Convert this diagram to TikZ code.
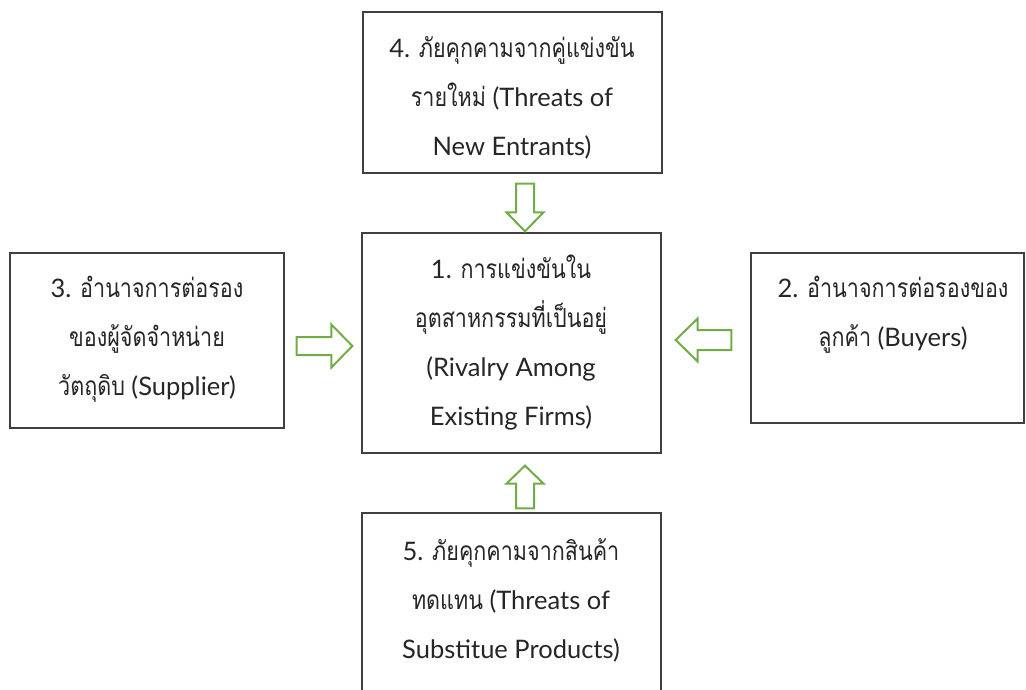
\documentclass[tikz,border=0pt]{standalone}
\usepackage{fontspec}
\setmainfont{Lato}
\newfontfamily\thaifont[Script=Thai,Scale=1.03,FakeStretch=0.82]{Loma}
\newcommand\tht[1]{{\thaifont #1}}
\usetikzlibrary{calc}
\definecolor{boxgray}{HTML}{404040}
\definecolor{arrgreen}{HTML}{70AD47}
\definecolor{textgray}{HTML}{262626}
\newcommand\fatarrow[5]{%
  \coordinate (fa-h) at ($(#2)!#5!(#1)$);
  \draw[fatarrow] ($(#1)!#3!90:(#2)$) -- ($(fa-h)!#3!90:(#2)$) -- ($(fa-h)!#4!90:(#2)$) -- (#2)
    -- ($(fa-h)!#4!-90:(#2)$) -- ($(fa-h)!#3!-90:(#2)$) -- ($(#1)!#3!-90:(#2)$) -- cycle;}
\begin{document}
\begin{tikzpicture}[x=1pt,y=-1pt,
  box/.style={draw=boxgray, line width=1.3pt, inner sep=0pt},
  lbl/.style={align=center, font=\fontsize{25.5}{49}\selectfont, text=textgray, inner sep=0pt},
  fatarrow/.style={draw=arrgreen, line width=2pt, fill=white, line join=miter}]
\useasboundingbox (0,0) rectangle (1026,690);
\clip (0,0) rectangle (1026,690);
% boxes
\node[box, minimum width=299pt, minimum height=161pt] (b4) at (512.5,92.5) {};
\node[box, minimum width=299pt, minimum height=220pt] (b1) at (511.5,343) {};
\node[box, minimum width=274pt, minimum height=175pt] (b3) at (147,340.5) {};
\node[box, minimum width=273pt, minimum height=170pt] (b2) at (887.5,338) {};
\node[box, minimum width=299pt, minimum height=200pt] (b5) at (511.5,613) {};
% texts
\node[lbl] (t4) at (512,97.5) {4. \tht{ภัยคุกคามจากคู่แข่งขัน}\\\tht{รายใหม่} (Threats of\\New Entrants)};
\node[lbl] (t1) at (511,343) {1. \tht{การแข่งขันใน}\\\tht{อุตสาหกรรมที่เป็นอยู่}\\(Rivalry Among\\Existing Firms)};
\node[lbl] (t3) at (147,339) {3. \tht{อำนาจการต่อรอง}\\\tht{ของผู้จัดจำหน่าย}\\\tht{วัตถุดิบ} (Supplier)};
\node[lbl] (t2) at (893,314.5) {2. \tht{อำนาจการต่อรองของ}\\\tht{ลูกค้า} (Buyers)};
\node[lbl] (t5) at (511,600) {5. \tht{ภัยคุกคามจากสินค้า}\\\tht{ทดแทน} (Threats of\\Substitue Products)};
% arrows
\coordinate (a4s) at ($(b4.south)+(12.5,10)$);
\coordinate (a4e) at ($(b1.north)+(13.5,-1)$);
\coordinate (a3s) at ($(b3.east)+(12,5.5)$);
\coordinate (a3e) at ($(b1.west)+(-9,3)$);
\coordinate (a2s) at ($(b2.west)+(-19,2)$);
\coordinate (a2e) at ($(b1.east)+(14,-3)$);
\coordinate (a5s) at ($(b5.north)+(13.5,-4)$);
\coordinate (a5e) at ($(b1.south)+(13.5,12)$);
\fatarrow{a4s}{a4e}{9pt}{18.5pt}{19pt}
\fatarrow{a5s}{a5e}{9pt}{18.5pt}{18pt}
\fatarrow{a3s}{a3e}{9pt}{21.5pt}{21pt}
\fatarrow{a2s}{a2e}{10pt}{21.5pt}{22pt}
\end{tikzpicture}
\end{document}
